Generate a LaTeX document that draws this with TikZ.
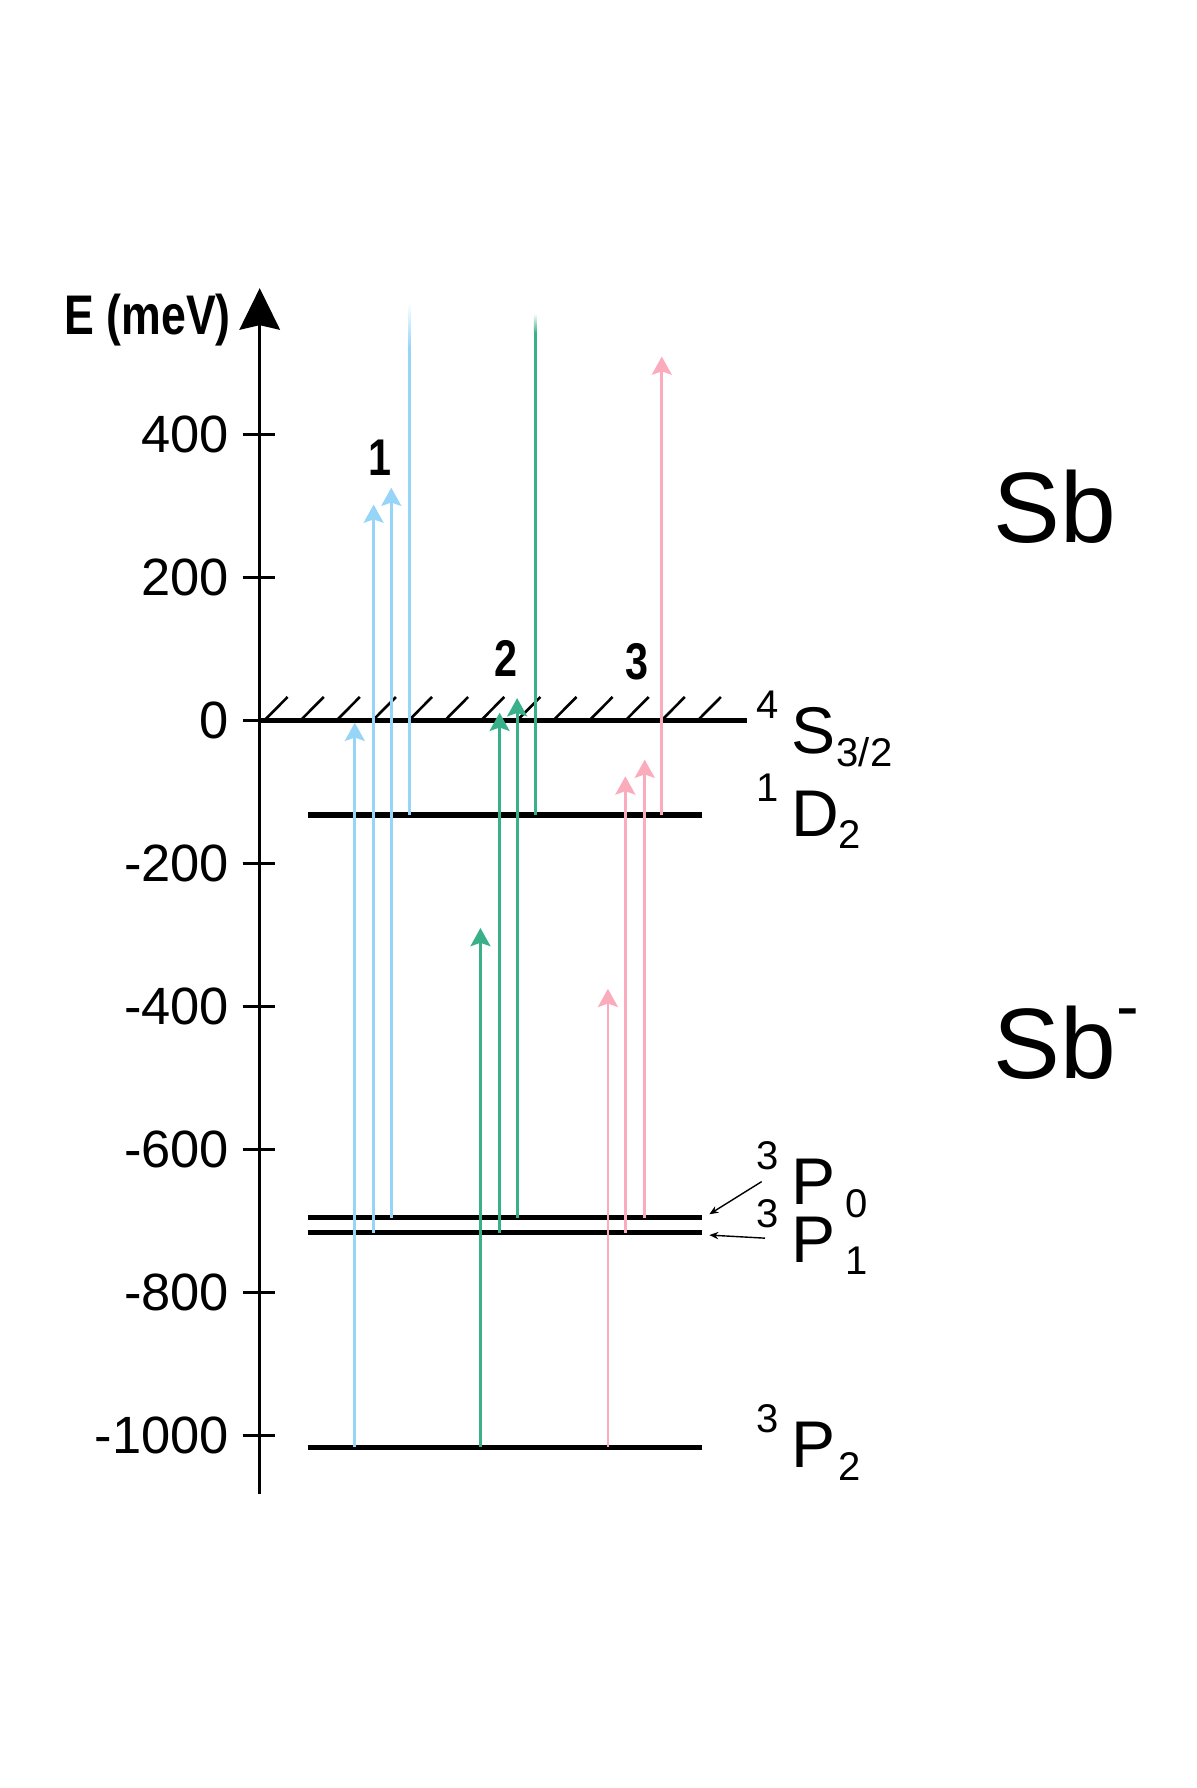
\documentclass[tikz,border=0pt]{standalone}
\usepackage{fontspec}
\setmainfont{Liberation Sans}
\newfontfamily\narrowfont[FakeStretch=0.8]{Liberation Sans}
\usetikzlibrary{arrows.meta}
\tikzset{
>={Stealth[length=0.32cm,width=0.35cm,inset=0.06cm]},
  axis/.style={line width=1.4pt},
  level/.style={line width=2.6pt},
  hatch/.style={line width=1.3pt},
  trans/.style={line width=1.4pt, ->},
  ticklabel/.style={anchor=east, inner sep=0pt, font=\fontsize{26.2}{26.2}\selectfont},
  pathno/.style={inner sep=0pt, font=\narrowfont\bfseries\fontsize{25.8}{25.8}\selectfont},
  termlabel/.style={anchor=base west, inner sep=0pt},
  species/.style={anchor=base west, inner sep=0pt, font=\fontsize{50}{50}\selectfont},
  pointer/.style={line width=0.7pt, -{Stealth[length=0.16cm,width=0.13cm]}},
}
\definecolor{lblue}{RGB}{150,212,248}
\definecolor{lgreen}{RGB}{58,176,138}
\definecolor{lpink}{RGB}{250,172,188}
\newcommand{\termsym}[4][0.8pt]{%
  \smash{\raisebox{17.6pt}{\fontsize{20}{20}\selectfont #2}}\hspace{6pt}%
  {\fontsize{33}{33}\selectfont #3}\hspace{#1}%
  \smash{\raisebox{-6.1pt}{\fontsize{20}{20}\selectfont #4}}}

\begin{document}
\begin{tikzpicture}[x=1cm, y=0.01256cm]
\useasboundingbox (0,-1492.5) rectangle (21,1007.5);

  %% Draw Energy Axis
  \draw[axis, -{Stealth[length=0.73cm,width=0.71cm,inset=0.08cm]}] (4.56,-1081.7) -- (4.56,604.6);
  \node[anchor=base east, inner sep=0pt, font=\narrowfont\bfseries\fontsize{27.9}{27.9}\selectfont] (eaxis) at (4.06,539.3) {E (meV)};
  \foreach \e in {400,200,...,-1000}{
    \draw[axis] (4.26,\e) -- (4.82,\e);
    \node[ticklabel] (tick\e) at (4.03,\e) {\e};
  }

  %% Draw Threshold
  \draw[level] (4.56,0) -- (13.12,0);
  \foreach \k in {0,...,12}
    \draw[hatch] ({4.64+0.634*\k},0) -- ++(0.41,33);

  %% Draw Levels
  \foreach \e in {-132,-695,-716,-1016}
    \draw[level] (5.40,\e) -- (12.32,\e);

  \node[termlabel] (s32) at (13.28,-46.7) {\termsym{4}{S}{3/2}};
  \node[termlabel] (d2) at (13.28,-162.3) {\termsym[0pt]{1}{D}{2}};
  \node[termlabel] (p0) at (13.28,-677.2) {\termsym[5pt]{3}{P}{0}};
  \node[termlabel] (p1) at (13.28,-757.8) {\termsym[5pt]{3}{P}{1}};
  \node[termlabel] (p2) at (13.28,-1045) {\termsym[1.6pt]{3}{P}{2}};

  \coordinate (p0tail) at (13.374,-644.6);
  \coordinate (p0tip) at (12.454,-690.3);
  \coordinate (p1tail) at (13.432,-723.7);
  \coordinate (p1tip) at (12.454,-719.4);
  \draw[pointer] (p0tail) -- (p0tip);
  \draw[pointer] (p1tail) -- (p1tip);

  %% Draw Transitions
  \foreach \x/\a/\b/\c in {6.23/-1016/-3/lblue,
                     6.56/-716/302/lblue,
                     6.87/-695/325.6/lblue,
                     8.436/-1016/-290/lgreen,
                     8.772/-716/11/lgreen,
                     9.08/-695/31.4/lgreen,
                     10.674/-1016/-375/lpink,
                     10.98/-716/-78/lpink,
                     11.32/-695/-54.6/lpink,
                     11.62/-132/509/lpink}{
    \draw[trans, \c] (\x,\a) -- (\x,\b);
  }
  \foreach \x/\t/\f/\c in {7.19/521/584/lblue,
                     9.40/542/569/lgreen}{
    \draw[line width=1.4pt, \c] (\x,-132) -- (\x,\t);
    \shade[top color=white, bottom color=\c] ({\x-0.0247},\t) rectangle ({\x+0.0247},\f);
  }

  \node[pathno] (no1) at (6.68,367.4) {1};
  \node[pathno] (no2) at (8.88,87) {2};
  \node[pathno] (no3) at (11.18,82.3) {3};

  %% Draw Species
  \node[species] (sb) at (17.44,249.5) {Sb};
  \node[species] (sbneg) at (17.44,-500.5) {Sb\raisebox{24.6pt}{\fontsize{34}{34}\selectfont -}};

\end{tikzpicture}
\end{document}
